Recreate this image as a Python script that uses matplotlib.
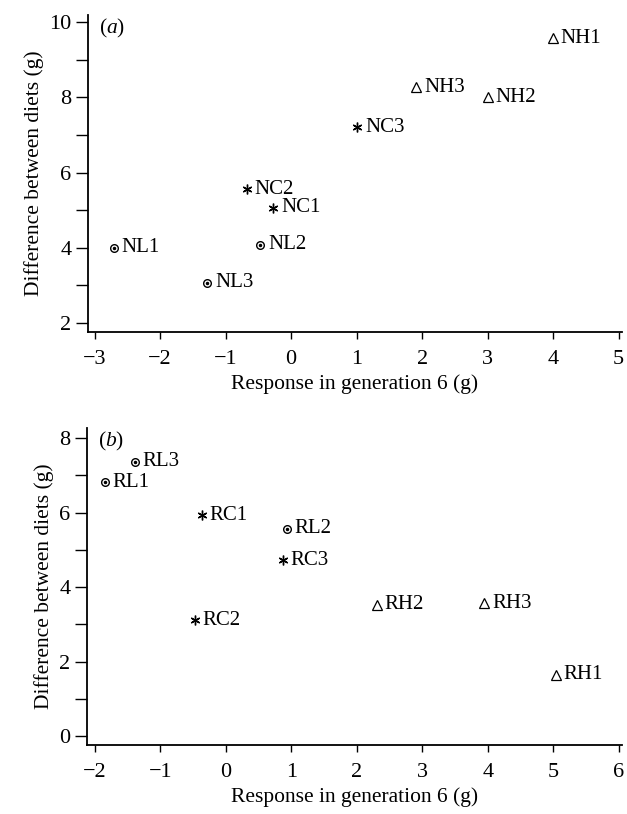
import matplotlib
matplotlib.use("Agg")
import matplotlib.pyplot as plt
from matplotlib.ticker import MultipleLocator

plt.rcParams['font.family'] = ['Liberation Serif', 'DejaVu Serif']
plt.rcParams['mathtext.fontset'] = 'custom'
plt.rcParams['mathtext.rm'] = 'Liberation Serif'
plt.rcParams['mathtext.it'] = 'Liberation Serif:italic'

# Panel (a)
a_labels = ["NL1", "NL2", "NL3", "NC1", "NC2", "NC3", "NH1", "NH2", "NH3"]
a_x = [-2.70, -0.47, -1.28, -0.27, -0.68, 1.01, 4.00, 3.00, 1.91]
a_y = [4.00, 4.08, 3.07, 5.07, 5.55, 7.20, 9.57, 8.00, 8.27]

# Panel (b)
b_labels = ["RL1", "RL2", "RL3", "RC1", "RC2", "RC3", "RH1", "RH2", "RH3"]
b_x = [-1.85, 0.93, -1.39, -0.37, -0.47, 0.87, 5.04, 2.31, 3.95]
b_y = [6.82, 5.56, 7.36, 5.93, 3.11, 4.72, 1.64, 3.52, 3.57]

a_xticks = [-3, -2, -1, 0, 1, 2, 3, 4, 5]
a_yticks = [2, 4, 6, 8, 10]
b_xticks = [-2, -1, 0, 1, 2, 3, 4, 5, 6]
b_yticks = [0, 2, 4, 6, 8]

W, H = 627, 814
fig = plt.figure(figsize=(W / 100, H / 100), dpi=100)

def rect(l, t, r, b):
    return [l / W, 1 - b / H, (r - l) / W, (b - t) / H]

ax_a = fig.add_axes(rect(88, 15, 622, 332))
ax_b = fig.add_axes(rect(87, 428, 622, 745))

def style_for(lbl):
    g = lbl[1]
    if g == "L":
        return dict(marker="o", ms=5.5, mfc="white", mec="black", mew=1.0)
    if g == "C":
        return dict(marker=(6, 2, 0), ms=7, mec="black", mew=1.0)
    return dict(marker="^", ms=7.5, mfc="none", mec="black", mew=0.9)

def draw(ax, labels, xs, ys):
    for lbl, x, y in zip(labels, xs, ys):
        ax.plot([x], [y], linestyle="none", **style_for(lbl))
        if lbl[1] == "L":
            ax.plot([x], [y], linestyle="none", marker="o", ms=1.5, color="black")
        ax.annotate(lbl, (x, y), xytext=(5.5, 0), textcoords="offset points",
                    va="center", ha="left", fontsize=15)

draw(ax_a, a_labels, a_x, a_y)
draw(ax_b, b_labels, b_x, b_y)

def setup(ax, xt, yt, xlim, ylim, tag):
    ax.set_xlim(*xlim)
    ax.set_ylim(*ylim)
    ax.set_xticks(xt)
    ax.set_yticks(yt)
    ax.set_xticklabels([str(v).replace("-", "\u2212") for v in xt], fontsize=16)
    ax.set_yticklabels([str(v) for v in yt], fontsize=16)
    ax.yaxis.set_minor_locator(MultipleLocator(1))
    for s in ["top", "right"]:
        ax.spines[s].set_visible(False)
    for s in ["left", "bottom"]:
        ax.spines[s].set_linewidth(1.3)
    ax.tick_params(axis="y", which="major", direction="out", length=9, width=1.0, pad=3)
    ax.tick_params(axis="y", which="minor", direction="out", length=9, width=1.0)
    ax.tick_params(axis="x", which="major", direction="out", length=5, width=1.0, pad=8)
    ax.set_xlabel("Response in generation 6 (g)", fontsize=15.5, labelpad=4)
    ax.set_ylabel("Difference between diets (g)", fontsize=15.5, labelpad=4)
    ax.text(0.02, 0.995, r"$\mathrm{(}\mathit{" + tag + r"}\mathrm{)}$",
            transform=ax.transAxes, fontsize=15.5, va="top", ha="left")

setup(ax_a, a_xticks, a_yticks, (-3.1, 5.05), (1.76, 10.19), "a")
setup(ax_b, b_xticks, b_yticks, (-2.12, 6.05), (-0.24, 8.27), "b")

fig.savefig("out.png", dpi=100)
